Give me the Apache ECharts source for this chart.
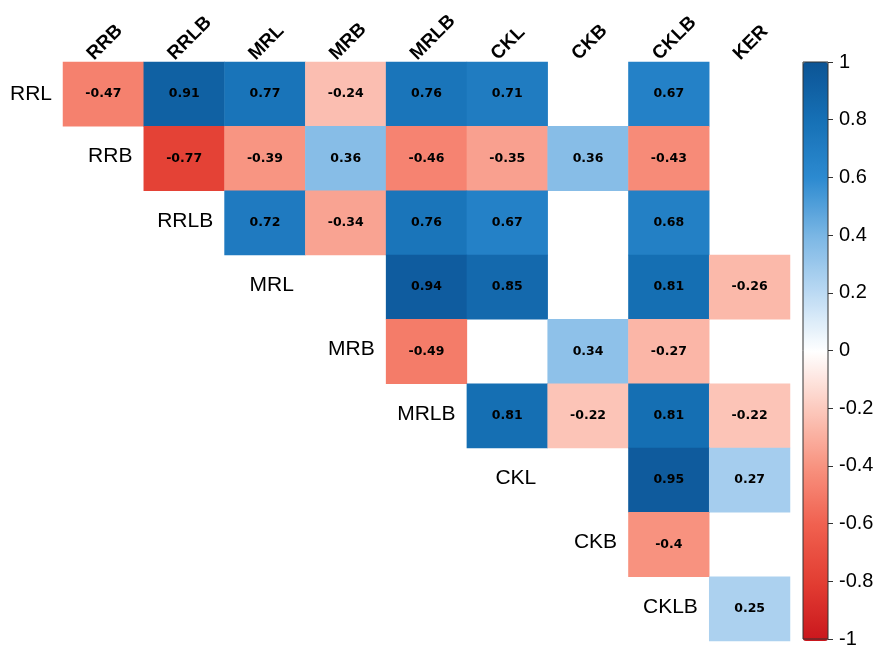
<!DOCTYPE html>
<html>
<head>
<meta charset="utf-8">
<script src="https://cdn.jsdelivr.net/npm/echarts@6/dist/echarts.min.js"></script>
<style>
  html, body { margin: 0; padding: 0; background: #fff; }
  #main { width: 877px; height: 649px; }
</style>
</head>
<body>
<div id="main"></div>
<script>
// columns (top) and rows (left, drawn on the diagonal)
var colNames = ['RRB', 'RRLB', 'MRL', 'MRB', 'MRLB', 'CKL', 'CKB', 'CKLB', 'KER'];
var rowNames = ['RRL', 'RRB', 'RRLB', 'MRL', 'MRB', 'MRLB', 'CKL', 'CKB', 'CKLB'];

// correlation values, null = not shown
var rowRRL  = [-0.47, 0.91, 0.77, -0.24, 0.76, 0.71, null, 0.67, null];
var rowRRB  = [null, -0.77, -0.39, 0.36, -0.46, -0.35, 0.36, -0.43, null];
var rowRRLB = [null, null, 0.72, -0.34, 0.76, 0.67, null, 0.68, null];
var rowMRL  = [null, null, null, null, 0.94, 0.85, null, 0.81, -0.26];
var rowMRB  = [null, null, null, null, -0.49, null, 0.34, -0.27, null];
var rowMRLB = [null, null, null, null, null, 0.81, -0.22, 0.81, -0.22];
var rowCKL  = [null, null, null, null, null, null, null, 0.95, 0.27];
var rowCKB  = [null, null, null, null, null, null, null, -0.4, null];
var rowCKLB = [null, null, null, null, null, null, null, null, 0.25];
var rowsData = [rowRRL, rowRRB, rowRRLB, rowMRL, rowMRB, rowMRLB, rowCKL, rowCKB, rowCKLB];

// colour bar ticks
var barTicks = [-1, -0.8, -0.6, -0.4, -0.2, 0, 0.2, 0.4, 0.6, 0.8, 1];
var palette = ['#c9161d', '#e23d32', '#f0604f', '#f8927f', '#fcc9bd', '#ffffff',
               '#bcdaf3', '#7ab6e4', '#2c8ad0', '#1670b5', '#0c5495'];

var font = 'Liberation Sans, Arial';

var cells = [];
rowsData.forEach(function (row, r) {
  row.forEach(function (v, c) {
    if (v !== null) cells.push([c, r, v]);
  });
});

// row labels sit in the empty cell just left of each row's first value
var rowLabels = [];
for (var i = 1; i < rowNames.length; i++) {
  rowLabels.push({ value: [i - 1, i], name: rowNames[i] });
}

var myChart = echarts.init(document.getElementById('main'));

var option = {
  animation: false,
  grid: [
    { left: 63, top: 62, width: 727, height: 579 },
    { left: 803, top: 62, width: 25, height: 579, show: true, z: 10,
      backgroundColor: 'transparent', borderColor: '#333', borderWidth: 1 },
    // only carries the column names, nudged left
    { left: 50, top: 62, width: 727, height: 579 }
  ],
  xAxis: [{
    type: 'category',
    data: colNames,
    gridIndex: 0,
    show: false
  }, {
    type: 'category',
    gridIndex: 1,
    data: [''],
    show: false
  }, {
    type: 'category',
    data: colNames,
    position: 'top',
    gridIndex: 2,
    axisLine: { show: false },
    axisTick: { show: false },
    splitLine: { show: false },
    axisLabel: {
      rotate: -45,
      margin: 5,
      color: '#000',
      fontFamily: font,
      fontWeight: 'bold',
      fontSize: 19
    }
  }],
  yAxis: [{
    type: 'category',
    data: rowNames,
    inverse: true,
    gridIndex: 0,
    axisLine: { show: false },
    axisTick: { show: false },
    splitLine: { show: false },
    axisLabel: {
      margin: 11,
      color: '#000',
      fontFamily: font,
      fontSize: 21,
      formatter: function (v, idx) { return idx === 0 ? v : ''; }
    }
  }, {
    type: 'value',
    gridIndex: 1,
    position: 'right',
    min: -1,
    max: 1,
    interval: 0.2,
    axisLine: { show: false },
    axisTick: { show: true, length: 5, lineStyle: { color: '#333' } },
    splitLine: { show: false },
    axisLabel: {
      margin: 11,
      color: '#000',
      fontFamily: font,
      fontSize: 20
    }
  }, {
    type: 'category',
    gridIndex: 2,
    data: rowNames,
    show: false
  }],
  visualMap: {
    type: 'continuous',
    min: barTicks[0],
    max: barTicks[barTicks.length - 1],
    seriesIndex: 0,
    calculable: false,
    left: 803,
    top: 62,
    padding: 0,
    itemWidth: 25,
    itemHeight: 579,
    text: null,
    showLabel: false,
    inRange: { color: palette }
  },
  series: [{
    type: 'heatmap',
    xAxisIndex: 0,
    yAxisIndex: 0,
    data: cells,
    label: {
      show: true,
      color: '#000',
      fontFamily: 'DejaVu Sans',
      fontWeight: 'bold',
      fontSize: 12.5,
      formatter: function (p) { return String(p.value[2]); }
    },
    emphasis: { disabled: true }
  }, {
    type: 'scatter',
    xAxisIndex: 0,
    yAxisIndex: 0,
    symbolSize: 0,
    data: rowLabels,
    silent: true,
    itemStyle: { opacity: 1 },
    label: {
      show: true,
      position: 'inside',
      align: 'right',
      offset: [29, -2],
      color: '#000',
      fontFamily: font,
      fontSize: 21,
      formatter: function (p) { return p.name; }
    }
  }]
};

myChart.setOption(option);
</script>
</body>
</html>
